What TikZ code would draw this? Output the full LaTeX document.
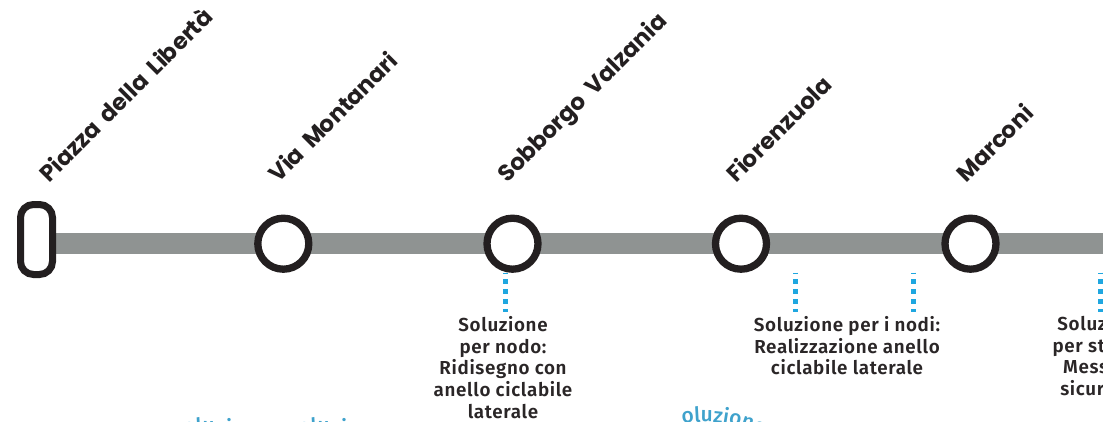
\documentclass[tikz,border=0pt]{standalone}
\usepackage{fontspec}
\setmainfont{Fira Sans}[UprightFont=* Medium, BoldFont=* SemiBold]
\newfontfamily\solfont{Fira Sans}[UprightFont=* SemiBold, LetterSpace=3.5]
\newfontfamily\stfont{Poppins}[WordSpace=1.8]
\usetikzlibrary{backgrounds,decorations.text}
\definecolor{trackgray}{HTML}{8F9392}
\definecolor{ink}{HTML}{231F20}
\definecolor{dotblue}{HTML}{1FA7E0}
\definecolor{arcblue}{HTML}{3FA2CC}
\definecolor{txt}{HTML}{2A2627}
\newcommand{\arcfnt}{\fontsize{21}{24}\selectfont\color{arcblue}}
\begin{document}
\begin{tikzpicture}[x=1pt,y=-1pt,
  track/.style={line width=21pt, draw=trackgray},
  station/.style={circle, draw=ink, line width=7.3pt, fill=white, minimum size=51pt, inner sep=0pt},
  terminal/.style={rectangle, rounded corners=13pt, draw=ink, line width=7pt, fill=white, minimum width=32pt, minimum height=70pt, inner sep=0pt},
  stlabel/.style={anchor=base west, rotate=45, inner sep=0pt, font=\stfont\bfseries\fontsize{23}{28}\selectfont, text=ink},
  sol/.style={anchor=north, align=center, inner sep=0pt, font=\solfont\fontsize{18.8}{21.7}\selectfont, text=txt},
  dots/.style={draw=dotblue, line width=5pt, dash pattern=on 5pt off 5pt, dash phase=3.4pt},
  arctext/.style={decorate, decoration={text along path, text={|\arcfnt|oluzione}}}
]
\useasboundingbox (0,0) rectangle (1103,421);
\clip (0,0) rectangle (1103,421);

% stations
\node[terminal] (term) at (36.5,239.5) {};
\node[station] (s1) at (283.3,243.7) {};
\node[station] (s2) at (512.5,243.7) {};
\node[station] (s3) at (741,243.7) {};
\node[station] (s4) at (970.5,243.7) {};
\coordinate (trackend) at (1115,243.7);

% station labels
\node[stlabel] (l0) at (49,184) {Piazza della Libertà};
\node[stlabel] (l1) at (278,184) {Via Montanari};
\node[stlabel] (l2) at (507,184) {Sobborgo Valzania};
\node[stlabel] (l3) at (736,184) {Fiorenzuola};
\node[stlabel] (l4) at (966,184) {Marconi};

% solution texts
\node[sol] (sol1) at (503,316) {Soluzione\\per nodo:\\Ridisegno con\\anello ciclabile\\laterale};
\node[sol] (sol2) at (847,316) {Soluzione per i nodi:\\Realizzazione anello\\ciclabile laterale};
\node[sol] (sol3) at (1102,315) {Soluzione\\per strada:\\Messa in\\sicurezza};

% dotted leaders
\coordinate (d1a) at (505,272.7); \coordinate (d1b) at (505,312.3);
\coordinate (d2a) at (795,272.7); \coordinate (d2b) at (795,312.3);
\coordinate (d3a) at (913,272.7); \coordinate (d3b) at (913,312.3);
\coordinate (d4a) at (1100,272.7); \coordinate (d4b) at (1100,312.3);

\begin{scope}[on background layer]
  \draw[track] (term.center |- s1.center) -- (s1.center) -- (s2.center) -- (s3.center) -- (s4.center) -- (trackend);
  \draw[dots] (d1a) -- (d1b);
  \draw[dots] (d2a) -- (d2b);
  \draw[dots] (d3a) -- (d3b);
  \draw[dots] (d4a) -- (d4b);
\end{scope}

% clipped blue arc texts at the bottom
\path[arctext] (184,435) arc[start angle=100, end angle=50, radius=130pt];
\path[arctext] (299,435) arc[start angle=100, end angle=50, radius=130pt];
\path[arctext] (682.4,424) arc[start angle=100, end angle=50, radius=130pt];
\end{tikzpicture}
\end{document}
